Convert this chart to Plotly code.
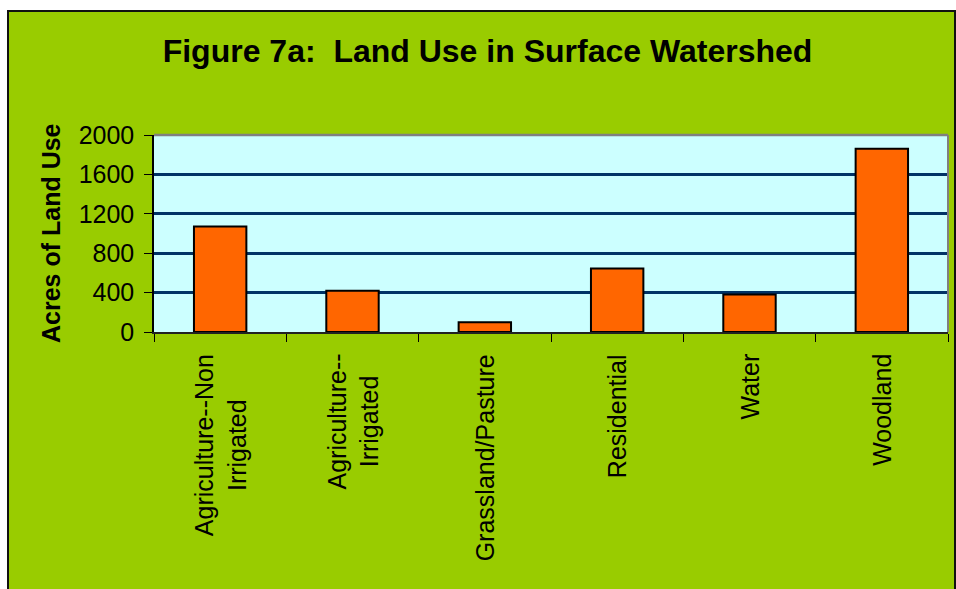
import plotly.graph_objects as go

categories = ["Agriculture--Non Irrigated", "Agriculture--Irrigated", "Grassland/Pasture",
              "Residential", "Water", "Woodland"]
category_labels = ["Agriculture--Non<br>Irrigated", "Agriculture--<br>Irrigated", "Grassland/Pasture",
                   "Residential", "Water", "Woodland"]
acres = [1070, 420, 100, 645, 380, 1860]
y_ticks = [0, 400, 800, 1200, 1600, 2000]

W, H = 956, 589
L, R, T, B = 154, 948, 135, 332
FONT = "Liberation Sans, Arial, sans-serif"


def px_x(p):
    return (p - L) / (R - L)


def px_y(p):
    return (B - p) / (B - T)


fig = go.Figure()
fig.add_trace(go.Bar(
    x=categories, y=acres,
    marker=dict(color="#FF6600", line=dict(color="black", width=2)),
    hoverinfo="x+y",
))

shapes = [
    # white outside the chart frame
    dict(type="rect", xref="paper", yref="paper", x0=px_x(-20), x1=px_x(W + 20),
         y0=px_y(-20), y1=px_y(10), fillcolor="white", line=dict(width=0), layer="above"),
    dict(type="rect", xref="paper", yref="paper", x0=px_x(-20), x1=px_x(7),
         y0=px_y(-20), y1=px_y(H + 20), fillcolor="white", line=dict(width=0), layer="above"),
    # chart frame
    dict(type="rect", xref="paper", yref="paper", x0=px_x(8), x1=px_x(955),
         y0=px_y(11), y1=px_y(H + 30), line=dict(color="#111111", width=2), layer="above"),
    # grey top and right edges of the plot area
    dict(type="line", xref="paper", yref="paper", x0=0, x1=1, y0=1, y1=1,
         line=dict(color="#808080", width=2.5), layer="above"),
    dict(type="line", xref="paper", yref="paper", x0=1, x1=1, y0=0, y1=1,
         line=dict(color="#808080", width=2), layer="above"),
]

annotations = [
    dict(x=c, y=0, xref="x", yref="y", text=lab, showarrow=False, textangle=-90,
         xanchor="center", yanchor="top", yshift=-20, align="center",
         font=dict(family=FONT, size=25, color="black"))
    for c, lab in zip(categories, category_labels)
]
annotations.append(dict(
    x=px_x(51), y=px_y(233), xref="paper", yref="paper", text="<b>Acres of Land Use</b>",
    showarrow=False, textangle=-90, xanchor="center", yanchor="middle",
    font=dict(family=FONT, size=25, color="black")))

fig.update_layout(
    width=W, height=H,
    margin=dict(l=L, r=W - R, t=T, b=H - B, pad=0),
    paper_bgcolor="#99CC00",
    plot_bgcolor="#CCFFFF",
    showlegend=False,
    bargap=0.604,
    title=dict(text="<b>Figure 7a:\u00a0 Land Use in Surface Watershed</b>",
               xref="container", yref="container", x=487.5 / W, y=1 - 51 / H,
               xanchor="center", yanchor="middle",
               font=dict(family=FONT, size=32, color="black")),
    xaxis=dict(type="category", tickson="boundaries", ticks="outside", ticklen=8,
               tickcolor="black", tickwidth=1.2, showticklabels=False,
               showline=True, linecolor="#222222", linewidth=1.5, showgrid=False,
               fixedrange=True),
    yaxis=dict(range=[0, 2000], tickvals=y_ticks, ticks="outside", ticklen=8,
               tickcolor="black", tickwidth=1.2, ticklabelstandoff=5,
               tickfont=dict(family=FONT, size=25, color="black"),
               showline=True, linecolor="black", linewidth=1.5,
               showgrid=True, gridcolor="#003366", gridwidth=3, zeroline=False,
               fixedrange=True),
    shapes=shapes,
    annotations=annotations,
)

fig.write_html("out.html", config={"displayModeBar": False},
               post_script="document.body.style.margin='0';document.body.style.overflow='hidden';")
